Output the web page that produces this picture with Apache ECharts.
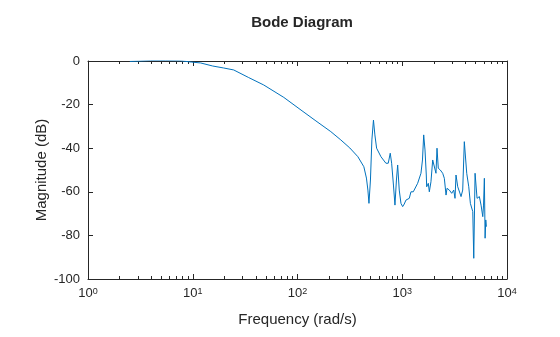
<!DOCTYPE html>
<html>
<head>
<meta charset="utf-8">
<script src="https://cdn.jsdelivr.net/npm/echarts@6/dist/echarts.min.js"></script>
<style>
html,body{margin:0;padding:0;background:#fff;}
#chart{width:560px;height:337px;}
</style>
</head>
<body>
<div id="chart"></div>
<script>
// Frequency (rad/s) samples
var freq = [2.51, 3.18, 3.96, 5.51, 7.66, 9.76, 11.9, 15.5, 19.7, 24.6,
  34.2, 47.6, 74.0, 108, 150, 208, 259, 316, 377, 430,
  455, 470, 481, 497, 513, 531, 548, 569, 626, 698,
  735, 768, 792, 824, 852, 880, 904, 936, 972, 1009,
  1045, 1085, 1127, 1167, 1211, 1274, 1331, 1403, 1509, 1560,
  1602, 1649, 1696, 1711, 1773, 1813, 1880, 1953, 2023, 2099,
  2147, 2208, 2308, 2433, 2522, 2618, 2676, 2814, 2966, 3100,
  3190, 3260, 3386, 3523, 3641, 3778, 3914, 4126, 4315, 4470,
  4611, 4712, 4815, 4957, 5178, 5447, 5653, 5778, 5871, 5971,
  6080, 6180, 6272, 6357];
// Magnitude (dB)
var magnitude = [-0.2, 0.0, 0.2, 0.2, 0.1, -0.5, -0.9, -2.3, -3.2, -4.1,
  -7.6, -11.0, -16.7, -22.5, -27.5, -32.4, -36.2, -39.9, -43.9, -48.5,
  -53.7, -59.2, -65.3, -54.6, -36.2, -27.1, -33.9, -40.0, -43.9, -46.9,
  -46.9, -42.3, -46.9, -56.9, -66.1, -54.6, -47.7, -59.2, -65.3, -66.8,
  -65.6, -63.8, -64.2, -63.0, -60.0, -60.0, -60.7, -56.1, -51.5, -45.4,
  -33.9, -40.8, -52.3, -57.7, -56.1, -60.0, -55.4, -45.4, -46.2, -51.5,
  -40.0, -49.2, -50.0, -51.5, -53.8, -61.5, -58.4, -59.2, -60.7, -59.2,
  -63.0, -52.3, -57.7, -60.1, -62.2, -59.2, -37.0, -51.5, -57.7, -65.3,
  -64.5, -69.1, -90.5, -51.5, -63.0, -62.2, -66.1, -66.8, -71.4, -66.1,
  -53.8, -81.3, -72.9, -76.0];
// Axis ticks
var xMajorTicks = [1, 10, 100, 1000, 10000];
var xMinorMultipliers = [2, 3, 4, 5, 6, 7, 8, 9];
var yTicks = [-100, -80, -60, -40, -20, 0];

var xMinorTicks = [];
xMajorTicks.slice(0, -1).forEach(function (d) {
  xMinorMultipliers.forEach(function (m) { xMinorTicks.push(d * m); });
});

var seriesData = freq.map(function (f, i) { return [f, magnitude[i]]; });

var txt = '#262626';
var font = 'Liberation Sans, Arial, Helvetica, sans-serif';

function logAxis(pos, ticks, len, showLine, labels) {
  var ax = {
    type: 'log', logBase: 10, min: 1, max: 10000,
    gridIndex: 0, position: pos, offset: 0,
    axisLine: { show: showLine, onZero: false, lineStyle: { color: txt, width: 1 } },
    axisTick: { show: true, inside: true, length: len, customValues: ticks,
      lineStyle: { color: txt, width: 1 } },
    axisLabel: { show: false },
    splitLine: { show: false },
    minorTick: { show: false },
    minorSplitLine: { show: false }
  };
  if (labels) {
    ax.axisLabel = {
      show: true, customValues: xMajorTicks, margin: 8,
      color: txt, fontFamily: font,
      formatter: function (v) {
        return '{b|10}{s|' + Math.round(Math.log10(v)) + '}';
      },
      rich: {
        b: { fontSize: 13, fontFamily: font, color: txt, verticalAlign: 'bottom', lineHeight: 13, padding: [4, 0, 0, 0] },
        s: { fontSize: 9, fontFamily: font, color: txt, verticalAlign: 'top', lineHeight: 9 }
      }
    };
    ax.name = 'Frequency (rad/s)';
    ax.nameLocation = 'middle';
    ax.nameGap = 33;
    ax.nameMoveOverlap = false;
    ax.nameTextStyle = { color: txt, fontSize: 15, fontFamily: font };
  }
  return ax;
}

function valAxis(pos, labels) {
  var ax = {
    type: 'value', min: -100, max: 0, interval: 20, gridIndex: 0, position: pos,
    axisLine: { show: true, onZero: false, lineStyle: { color: txt, width: 1 } },
    axisTick: { show: true, inside: true, length: 5, lineStyle: { color: txt, width: 1 } },
    axisLabel: { show: false },
    splitLine: { show: false }
  };
  if (labels) {
    ax.axisLabel = { show: true, color: txt, fontSize: 13, fontFamily: font, margin: 8,
      customValues: yTicks };
    ax.name = 'Magnitude (dB)';
    ax.nameLocation = 'middle';
    ax.nameGap = 39;
    ax.nameMoveOverlap = false;
    ax.nameTextStyle = { color: txt, fontSize: 15, fontFamily: font };
  }
  return ax;
}

var chart = echarts.init(document.getElementById('chart'), null, { renderer: 'canvas' });
chart.setOption({
  backgroundColor: '#ffffff',
  animation: false,
  title: {
    text: 'Bode Diagram', left: 297, top: 10, textAlign: 'center',
    textStyle: { color: txt, fontSize: 15, fontWeight: 'bold', fontFamily: font }
  },
  grid: { left: 88, right: 53, top: 61, bottom: 58, containLabel: false },
  xAxis: [
    logAxis('bottom', xMajorTicks, 5, true, true),
    logAxis('bottom', xMinorTicks, 3, false, false),
    logAxis('top', xMajorTicks, 5, true, false),
    logAxis('top', xMinorTicks, 3, false, false)
  ],
  yAxis: [
    valAxis('left', true),
    valAxis('right', false)
  ],
  series: [{
    type: 'line',
    xAxisIndex: 0, yAxisIndex: 0,
    data: seriesData,
    showSymbol: false, symbol: 'none',
    lineStyle: { color: '#0072BD', width: 1 },
    clip: true
  }]
});
</script>
</body>
</html>
